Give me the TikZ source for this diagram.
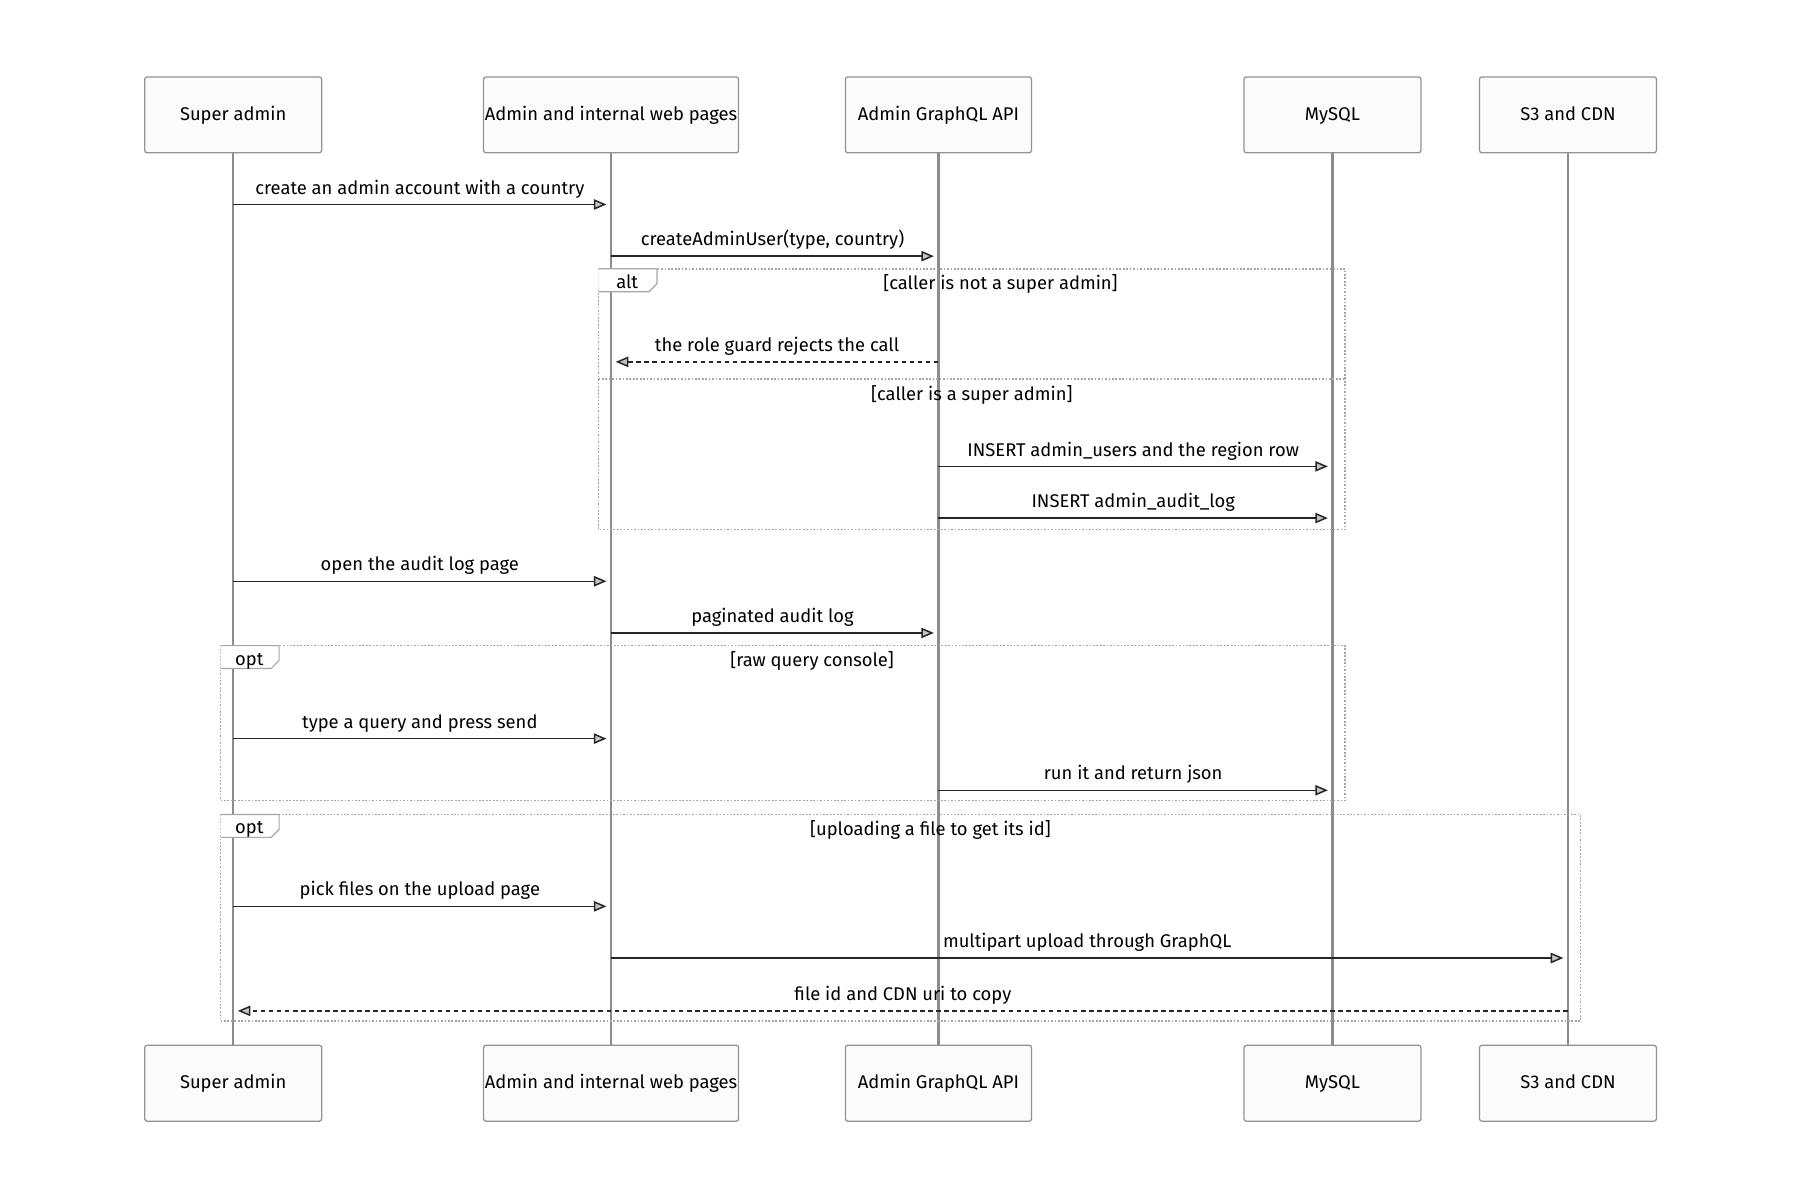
\documentclass[tikz,border=0pt]{standalone}
\usepackage{fontspec}
\setmainfont{Fira Sans}
\usetikzlibrary{arrows.meta}
\begin{document}
\begin{tikzpicture}[x=1pt,y=-1pt,
  actor/.style={draw=gray!85,line width=1.1pt,fill=gray!3,rounded corners=2pt,minimum height=66pt,inner sep=0pt,text height=12pt,text depth=3pt,font=\fontsize{16}{19}\selectfont},
  life/.style={draw=gray!90,line width=2pt},
  msg/.style={draw=black!85,line width=1.3pt,-{Triangle[open,length=11pt,width=9pt,fill=gray!45]}},
  rep/.style={msg,dash pattern=on 4pt off 3pt},
  lbl/.style={font=\fontsize{16}{19}\selectfont,anchor=base,inner sep=0pt},
  frame/.style={draw=gray!70,line width=1.3pt,dash pattern=on 1.5pt off 1.5pt},
  tab/.style={draw=gray!70,fill=white,line width=1pt}]
\useasboundingbox (0,0) rectangle (1567,1045);
% actors
\foreach \n/\x/\w/\t in {a/203/154/Super admin,b/532/222/Admin and internal web pages,c/817/162/Admin GraphQL API,d/1160/154/MySQL,e/1365/154/S3 and CDN}{
  \node[actor,minimum width=\w pt] (\n top) at (\x,100) {\t};
  \node[actor,minimum width=\w pt] (\n bot) at (\x,943) {\t};
  \draw[life] (\n top.south) -- (\n bot.north);
}
% frames
\draw[frame] (521,234) rectangle (1171,461);
\draw[frame] (521,330) -- (1171,330);
\draw[tab] (521,234) -- (572,234) -- (572,247) -- (565,254) -- (521,254);
\node[lbl] (altl) at (546,251) {alt};
\node[lbl] (altc1) at (871,252) {[caller is not a super admin]};
\node[lbl] (altc2) at (846,349) {[caller is a super admin]};
\draw[frame] (192,562) rectangle (1171,697);
\draw[tab] (192,562) -- (243,562) -- (243,575) -- (236,582) -- (192,582);
\node[lbl] (opt1) at (217,579) {opt};
\node[lbl] (opt1c) at (707,580) {[raw query console]};
\draw[frame] (192,709) rectangle (1376,889);
\draw[tab] (192,709) -- (243,709) -- (243,722) -- (236,729) -- (192,729);
\node[lbl] (opt2) at (217,726) {opt};
\node[lbl] (opt2c) at (810,727) {[uploading a file to get its id]};
% messages
\tikzset{ml/.style={lbl,midway,yshift=9pt}}
\coordinate (m1a) at (203,178); \coordinate (m1b) at (528,178);
\draw[msg] (m1a) -- (m1b) node[ml] {create an admin account with a country};
\coordinate (m2a) at (532,223); \coordinate (m2b) at (813,223);
\draw[msg] (m2a) -- (m2b) node[ml] {createAdminUser(type, country)};
\coordinate (m3a) at (817,315); \coordinate (m3b) at (536,315);
\draw[rep] (m3a) -- (m3b) node[ml] {the role guard rejects the call};
\coordinate (m4a) at (817,406); \coordinate (m4b) at (1156,406);
\draw[msg] (m4a) -- (m4b) node[ml] {INSERT admin\_users and the region row};
\coordinate (m5a) at (817,451); \coordinate (m5b) at (1156,451);
\draw[msg] (m5a) -- (m5b) node[ml] {INSERT admin\_audit\_log};
\coordinate (m6a) at (203,506); \coordinate (m6b) at (528,506);
\draw[msg] (m6a) -- (m6b) node[ml] {open the audit log page};
\coordinate (m7a) at (532,551); \coordinate (m7b) at (813,551);
\draw[msg] (m7a) -- (m7b) node[ml] {paginated audit log};
\coordinate (m8a) at (203,643); \coordinate (m8b) at (528,643);
\draw[msg] (m8a) -- (m8b) node[ml] {type a query and press send};
\coordinate (m9a) at (817,688); \coordinate (m9b) at (1156,688);
\draw[msg] (m9a) -- (m9b) node[ml] {run it and return json};
\coordinate (m10a) at (203,789); \coordinate (m10b) at (528,789);
\draw[msg] (m10a) -- (m10b) node[ml] {pick files on the upload page};
\coordinate (m11a) at (532,834); \coordinate (m11b) at (1361,834);
\draw[msg] (m11a) -- (m11b) node[ml] {multipart upload through GraphQL};
\coordinate (m12a) at (1365,880); \coordinate (m12b) at (207,880);
\draw[rep] (m12a) -- (m12b) node[ml] {file id and CDN uri to copy};
\end{tikzpicture}
\end{document}
